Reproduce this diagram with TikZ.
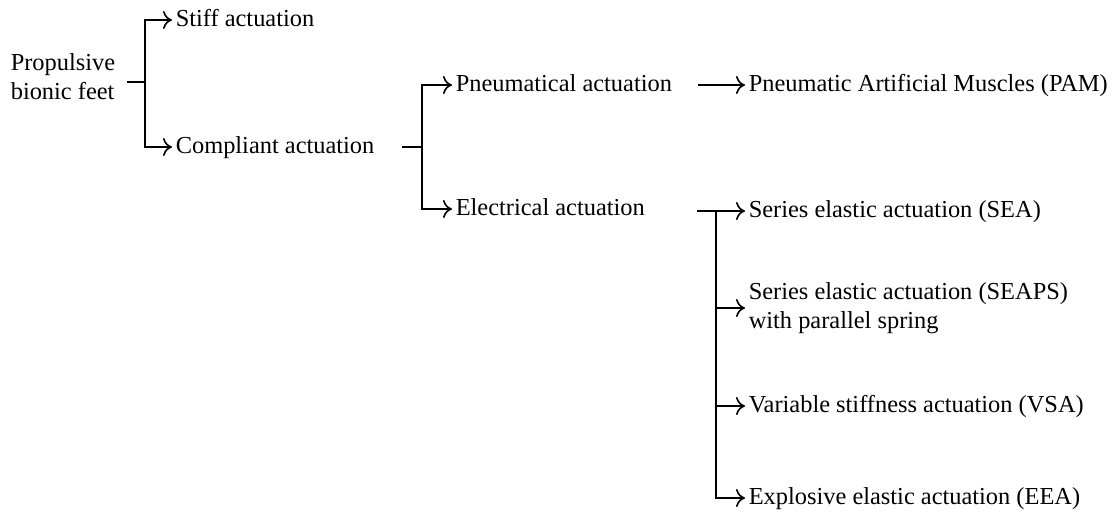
\documentclass[tikz,border=0pt]{standalone}
\usepackage{fontspec}
\setmainfont{Liberation Serif}
\usetikzlibrary{arrows.meta}

\begin{document}
\begin{tikzpicture}[x=0.5pt,y=0.5pt,yscale=-1,line width=0.8pt,
  >={To[length=4.5pt,width=9pt]},
  leaf/.style={anchor=west,inner sep=0pt,inner xsep=1.5pt,font=\fontsize{12.2}{14.5}\selectfont,text height=8pt,text depth=2pt},
  twoline/.style={anchor=west,inner sep=0pt,inner xsep=1.5pt,align=left,font=\fontsize{12.2}{14.5}\selectfont}]
\useasboundingbox (0,0) rectangle (1114,511);

% Text Node
\node [twoline] (feet) at (7,77) {Propulsive\\bionic feet};
% Text Node
\node [leaf] (stiff) at (172,20) {Stiff actuation};
% Text Node
\node [leaf] (compliant) at (172,147) {Compliant actuation};
% Text Node
\node [leaf] (pneu) at (452,85) {Pneumatical actuation};
% Text Node
\node [leaf] (elec) at (452,209) {Electrical actuation};
% Text Node
\node [leaf] (pam) at (745,85) {Pneumatic Artificial Muscles (PAM)};
% Text Node
\node [leaf] (sea) at (745,211) {Series elastic actuation (SEA)};
% Text Node
\node [twoline] (seaps) at (745,308) {Series elastic actuation (SEAPS)\\with parallel spring};
% Text Node
\node [leaf] (vsa) at (745,406) {Variable stiffness actuation (VSA)};
% Text Node
\node [leaf] (eea) at (745,498) {Explosive elastic actuation (EEA)};

%Junctions
\coordinate (s1) at (127,82);
\coordinate (b1) at (145,82);
\coordinate (s2) at (402,147);
\coordinate (b2) at (422,147);
\coordinate (s3) at (698,85);
\coordinate (s4) at (697,211);
\coordinate (b3) at (716,211);

%Straight Lines
\draw (s1) -- (b1);
\draw [->] (b1) |- (stiff.west);
\draw [->] (b1) |- (compliant.west);

%Straight Lines
\draw (s2) -- (b2);
\draw [->] (b2) |- (pneu.west);
\draw [->] (b2) |- (elec.west);
\draw [->] (s3) -- (pam.west);

%Straight Lines
\draw (s4) -- (b3);
\draw [->] (b3) -- (sea.west);
\draw [->] (b3) |- (seaps.west);
\draw [->] (b3) |- (vsa.west);
\draw [->] (b3) |- (eea.west);

\end{tikzpicture}
\end{document}
